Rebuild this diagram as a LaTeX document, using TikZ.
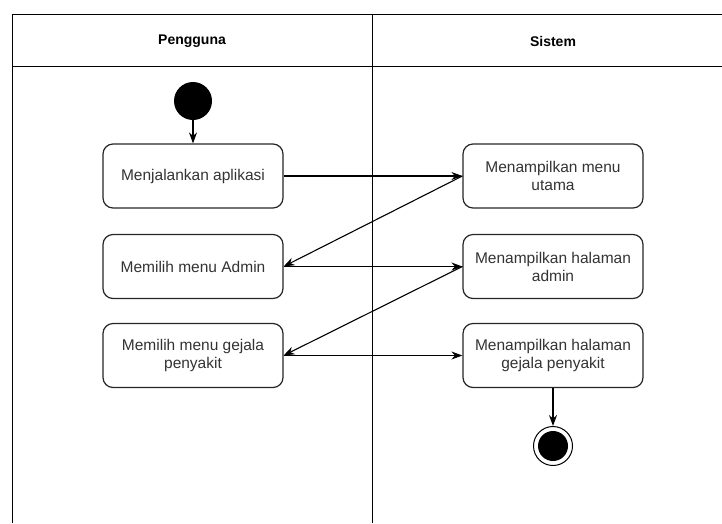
\documentclass[tikz,border=0pt]{standalone}
\usepackage{fontspec}
\setmainfont{Liberation Sans}
\usetikzlibrary{arrows.meta}

\tikzset{
  activity/.style={draw=black!85, line width=1.2pt, rounded corners=10pt, fill=white,
    minimum width=180pt, minimum height=64pt, align=center, text=black!80,
    font=\fontsize{15.5}{18}\selectfont},
  lanehead/.style={font=\fontsize{14}{16}\selectfont\bfseries, text=black},
  flow/.style={line width=1.1pt, -{Stealth[length=11pt,width=8pt]}},
}

\begin{document}
\begin{tikzpicture}[x=1pt,y=1pt,yscale=-1]
        \useasboundingbox (0,0) rectangle (722,523);
        
        %Swimlanes
        \draw [line width=1pt] (12,523) -- (12,14.5) -- (722,14.5) ;
        \draw [line width=1pt] (12,66) -- (722,66) ;
        \draw [line width=1pt] (372,14.5) -- (372,523) ;
        
        % Lane titles
        \node [lanehead] (pengguna) at (192,41) {Pengguna};
        \node [lanehead] (sistem) at (553,41) {Sistem};
        
        %Start and end
        \node [circle, fill=black, minimum size=38pt, inner sep=0pt] (start) at (193,101) {};
        \node [circle, draw=black, line width=1pt, fill=white, minimum size=39pt, inner sep=0pt] (finish) at (553,446) {};
        \node [circle, fill=black, minimum size=30pt, inner sep=0pt] (finishdot) at (553,446) {};
        
        %Pengguna actions
        \node [activity] (jalankan) at (193,176) {Menjalankan aplikasi};
        \node [activity] (pilihadmin) at (193,266.5) {Memilih menu Admin};
        \node [activity] (pilihgejala) at (193,355.5) {Memilih menu gejala\\penyakit};
        
        %Sistem actions
        \node [activity] (menuutama) at (553,176) {Menampilkan menu\\utama};
        \node [activity] (halamanadmin) at (553,266.5) {Menampilkan halaman\\admin};
        \node [activity] (halamangejala) at (553,355.5) {Menampilkan halaman\\gejala penyakit};
        
        %Flows
        \draw [flow] (start) -- (jalankan) ;
        \draw [flow] (jalankan.east) -- (menuutama.west) ;
        \draw [flow] (menuutama.west) -- (pilihadmin.east) ;
        \draw [flow] (pilihadmin.east) -- (halamanadmin.west) ;
        \draw [flow] (halamanadmin.west) -- (pilihgejala.east) ;
        \draw [flow] (pilihgejala.east) -- (halamangejala.west) ;
        \draw [flow] (halamangejala) -- (finish) ;
        
\end{tikzpicture}
\end{document}
